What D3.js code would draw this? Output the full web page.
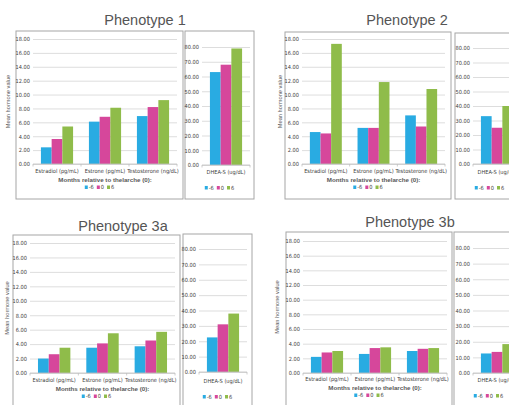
<!DOCTYPE html>
<html>
<head>
<meta charset="utf-8">
<script src="https://cdn.jsdelivr.net/npm/d3@7"></script>
<style>
  body { margin: 0; background: #fff; }
  svg { display: block; }
  .tick-label { font-family: "Liberation Sans Narrow", "DejaVu Sans Condensed", sans-serif; font-size: 5.6px; fill: #404040; }
</style>
</head>
<body>
<div id="chart"></div>
<script>
// data
var categories = ["Estradiol (pg/mL)", "Estrone (pg/mL)", "Testosterone (ng/dL)"];
var dheaCategory = ["DHEA-S (ug/dL)"];
var months = ["-6", "0", "6"];
var titles = ["Phenotype 1", "Phenotype 2", "Phenotype 3a", "Phenotype 3b"];
var mainTicks = [0, 2, 4, 6, 8, 10, 12, 14, 16, 18];
var dheaTicks = [0, 10, 20, 30, 40, 50, 60, 70, 80];

// rows = hormone, columns = month (-6, 0, 6)
var p1Main = [[2.4, 3.6, 5.4], [6.1, 6.8, 8.1], [6.9, 8.2, 9.2]];
var p1Dhea = [63, 68, 79];
var p2Main = [[4.6, 4.4, 17.3], [5.2, 5.2, 11.8], [7.0, 5.4, 10.8]];
var p2Dhea = [33, 25, 40];
var p3aMain = [[2.0, 2.6, 3.5], [3.5, 4.1, 5.5], [3.7, 4.5, 5.7]];
var p3aDhea = [22.5, 31, 38];
var p3bMain = [[2.2, 2.8, 3.0], [2.6, 3.4, 3.5], [3.0, 3.3, 3.4]];
var p3bDhea = [12.5, 13.5, 18.5];

var colors = ["#29abe2", "#d6479b", "#8fbc4a"];

// panel placement (pixels)
var layouts = [
    {title: [145, 20], box: [16, 31, 183, 199], px: [33, 177], py: [164, 39], yt: 8,
     dbox: [185, 31, 254, 199], dx: [202, 250], dy: [165, 47], catY: 173},
    {title: [407, 20], box: [285, 32, 451, 199], px: [302, 445], py: [164, 39], yt: 280,
     dbox: [455, 33, 524, 199], dx: [473, 521], dy: [164, 48], catY: 173},
    {title: [123, 226], box: [13, 235, 180, 412], px: [30, 175], py: [373, 243], yt: 7,
     dbox: [183, 234, 252, 412], dx: [199, 247], dy: [372, 249], catY: 382},
    {title: [410, 222], box: [286, 232, 452, 412], px: [303, 447], py: [373, 241], yt: 277,
     dbox: [454, 232, 523, 412], dx: [473, 521], dy: [373, 248], catY: 381}
];
var mains = [p1Main, p2Main, p3aMain, p3bMain];
var dheas = [p1Dhea, p2Dhea, p3aDhea, p3bDhea];

var svg = d3.select('#chart').append('svg')
    .attr('width', 509)
    .attr('height', 405);

function drawLegend(g, cx, y) {
    var items = g.append('g');
    var x = 0;
    months.forEach(function(m, i) {
        items.append('rect')
            .attr('x', x).attr('y', y - 3)
            .attr('width', 3).attr('height', 3.5)
            .attr('fill', colors[i]);
        var t = items.append('text')
            .attr('class', 'tick-label')
            .attr('x', x + 4).attr('y', y + 0.8)
            .text(m);
        x += 4 + t.node().getComputedTextLength() + 3;
    });
    items.attr('transform', 'translate(' + (cx - (x - 3) / 2) + ',0)');
}

function drawChart(g, cats, values, ticks, xr, yr, catY, max) {
    var x0 = d3.scaleBand().domain(cats).range(xr)
        .paddingInner(0.33).paddingOuter(0.165);
    var x1 = d3.scaleBand().domain(months).range([0, x0.bandwidth()]);
    var y = d3.scaleLinear().domain([0, max]).range(yr);

    // gridlines
    g.append('g')
        .attr('transform', 'translate(' + xr[0] + ',0)')
        .call(d3.axisLeft(y).tickValues(ticks).tickSize(-(xr[1] - xr[0])).tickFormat(d3.format('.2f')))
        .call(function(a) {
            a.select('.domain').remove();
            a.selectAll('.tick line').attr('stroke', '#d4d4d4').attr('stroke-width', 0.8);
            a.selectAll('.tick text').attr('class', 'tick-label').attr('x', -3);
        });

    // bars
    g.append('g').selectAll('g')
        .data(values)
        .join('g')
        .attr('transform', function(d, i) { return 'translate(' + x0(cats[i]) + ',0)'; })
        .selectAll('rect')
        .data(function(d) { return d; })
        .join('rect')
        .attr('x', function(d, j) { return x1(months[j]); })
        .attr('y', function(d) { return y(d); })
        .attr('width', x1.bandwidth())
        .attr('height', function(d) { return y(0) - y(d); })
        .attr('fill', function(d, j) { return colors[j]; });

    // x axis line with Excel style ticks between categories
    var xAxis = g.append('g');
    xAxis.append('line')
        .attr('x1', xr[0]).attr('x2', xr[1])
        .attr('y1', yr[0]).attr('y2', yr[0])
        .attr('stroke', '#bfbfbf').attr('stroke-width', 0.8);
    var step = x0.step();
    d3.range(cats.length + 1).forEach(function(k) {
        var tx = xr[0] + k * step;
        xAxis.append('line')
            .attr('x1', tx).attr('x2', tx)
            .attr('y1', yr[0]).attr('y2', yr[0] + 2.5)
            .attr('stroke', '#bfbfbf').attr('stroke-width', 0.8);
    });
    g.append('g').selectAll('text')
        .data(cats)
        .join('text')
        .attr('class', 'tick-label')
        .attr('x', function(d) { return x0(d) + x0.bandwidth() / 2; })
        .attr('y', catY)
        .attr('text-anchor', 'middle')
        .text(function(d) { return d; });
}

layouts.forEach(function(L, p) {
    var g = svg.append('g');

    g.append('text')
        .attr('x', L.title[0]).attr('y', L.title[1] + 5)
        .attr('text-anchor', 'middle')
        .attr('font-family', 'Liberation Sans, Arial, sans-serif')
        .attr('font-size', '14.5px')
        .attr('fill', '#555')
        .text(titles[p]);

    // outer boxes
    [L.box, L.dbox].forEach(function(b) {
        g.append('rect')
            .attr('x', b[0]).attr('y', b[1])
            .attr('width', b[2] - b[0]).attr('height', b[3] - b[1])
            .attr('fill', 'none')
            .attr('stroke', '#a6a6a6').attr('stroke-width', 1);
    });

    drawChart(g, categories, mains[p], mainTicks, L.px, L.py, L.catY, 18);
    drawChart(g, dheaCategory, [dheas[p]], dheaTicks, L.dx, L.dy, L.catY + 1, 80);

    // y axis title
    var midY = (L.py[0] + L.py[1]) / 2;
    g.append('text')
        .attr('transform', 'translate(' + (L.yt + 2) + ',' + midY + ') rotate(-90)')
        .attr('text-anchor', 'middle')
        .attr('font-family', 'Liberation Sans, Arial, sans-serif')
        .attr('font-size', '5.7px')
        .attr('fill', '#595959')
        .text('Mean hormone value');

    // x axis title
    g.append('text')
        .attr('x', (L.px[0] + L.px[1]) / 2).attr('y', L.catY + 8.5)
        .attr('text-anchor', 'middle')
        .attr('font-family', 'Liberation Sans, Arial, sans-serif')
        .attr('font-size', '6.2px')
        .attr('font-weight', 'bold')
        .attr('fill', '#595959')
        .text('Months relative to thelarche (0):');

    drawLegend(g, (L.box[0] + L.box[2]) / 2, L.catY + 15.5);
    drawLegend(g, (L.dbox[0] + L.dbox[2]) / 2, L.catY + 16);
});
</script>
</body>
</html>
